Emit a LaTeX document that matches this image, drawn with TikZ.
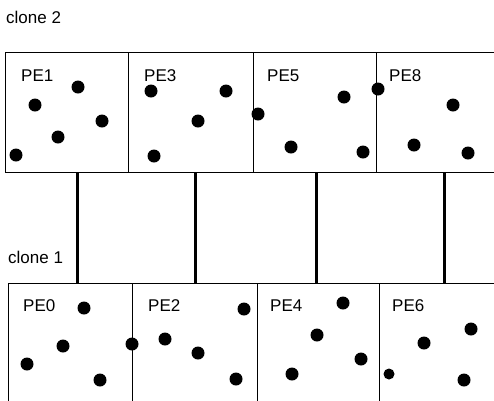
\documentclass[tikz,border=0pt]{standalone}
\usepackage{fontspec}
\setmainfont{Liberation Sans}
\begin{document}
\begin{tikzpicture}[x=1pt,y=-1pt,
  cell/.style={draw, line width=1pt, rectangle, inner sep=0pt, outer sep=0pt},
  conn/.style={line width=3pt},
  dot/.style={circle, fill=black, inner sep=0pt, minimum size=13pt},
  pelbl/.style={anchor=base west, inner sep=0pt, font=\fontsize{17}{17}\selectfont},
  clonelbl/.style={anchor=base west, inner sep=0pt, font=\fontsize{17}{17}\selectfont}]
\useasboundingbox (0,0) rectangle (494,400);
\clip (0,0) rectangle (494,400);
% labels clone
\node[clonelbl] (clone2) at (6,23) {clone 2};
\node[clonelbl] (clone1) at (8,263) {clone 1};
% top row cells
\node[cell, minimum width=123pt, minimum height=120pt] (b1) at (66.5,112) {};
\node[cell, minimum width=125pt, minimum height=120pt] (b3) at (190.5,112) {};
\node[cell, minimum width=123pt, minimum height=120pt] (b5) at (314.5,112) {};
\node[cell, minimum width=144pt, minimum height=120pt] (b8) at (448,112) {};
% bottom row cells
\node[cell, minimum width=124pt, minimum height=137pt] (b0) at (70,351.5) {};
\node[cell, minimum width=125pt, minimum height=137pt] (b2) at (194.5,351.5) {};
\node[cell, minimum width=122pt, minimum height=137pt] (b4) at (318,351.5) {};
\node[cell, minimum width=141pt, minimum height=137pt] (b6) at (449.5,351.5) {};
% PE labels
\node[pelbl] (l1) at (21,81) {PE1};
\node[pelbl] (l3) at (144,81) {PE3};
\node[pelbl] (l5) at (267,81) {PE5};
\node[pelbl] (l8) at (389,81) {PE8};
\node[pelbl] (l0) at (23,311) {PE0};
\node[pelbl] (l2) at (148,311) {PE2};
\node[pelbl] (l4) at (270,311) {PE4};
\node[pelbl] (l6) at (392,311) {PE6};
% connector x positions
\coordinate (x1) at (77,0);
\coordinate (x2) at (195,0);
\coordinate (x3) at (316,0);
\coordinate (x4) at (444,0);
\draw[conn] (b1.south -| x1) -- (b0.north -| x1);
\draw[conn] (b3.south -| x2) -- (b2.north -| x2);
\draw[conn] (b5.south -| x3) -- (b4.north -| x3);
\draw[conn] (b8.south -| x4) -- (b6.north -| x4);
% dots top
\node[dot] (d1a) at (78,87) {};
\node[dot] (d1b) at (35,105) {};
\node[dot] (d1c) at (102,121) {};
\node[dot] (d1d) at (58,137) {};
\node[dot] (d1e) at (16,155) {};
\node[dot] (d3a) at (151,91) {};
\node[dot] (d3b) at (226,91) {};
\node[dot] (d3c) at (198,121) {};
\node[dot] (d3d) at (154,156) {};
\node[dot] (d5a) at (258,114) {};
\node[dot] (d5b) at (344,97) {};
\node[dot] (d5c) at (291,147) {};
\node[dot] (d5d) at (363,152) {};
\node[dot] (d8a) at (378,89) {};
\node[dot] (d8b) at (453,105) {};
\node[dot] (d8c) at (414,145) {};
\node[dot] (d8d) at (468,153) {};
% dots bottom
\node[dot] (d0a) at (84,308) {};
\node[dot] (d0b) at (63,346) {};
\node[dot] (d0c) at (27,364) {};
\node[dot] (d0d) at (100,380) {};
\node[dot] (d0e) at (132,344) {};
\node[dot] (d2a) at (165,339) {};
\node[dot] (d2b) at (198,353) {};
\node[dot] (d2c) at (244,309) {};
\node[dot] (d2d) at (236,379) {};
\node[dot] (d4a) at (343,303) {};
\node[dot] (d4b) at (317,335) {};
\node[dot] (d4c) at (361,359) {};
\node[dot] (d4d) at (292,374) {};
\node[dot] (d6a) at (471,329) {};
\node[dot] (d6b) at (424,343) {};
\node[dot, minimum size=11pt] (d6c) at (389,374) {};
\node[dot] (d6d) at (464,380) {};
\end{tikzpicture}
\end{document}
